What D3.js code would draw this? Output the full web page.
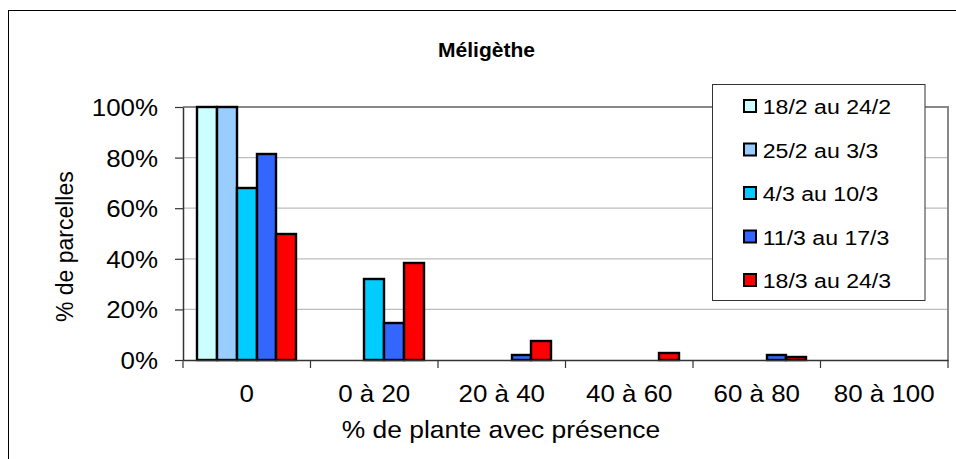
<!DOCTYPE html>
<html>
<head>
<meta charset="utf-8">
<script src="https://cdn.jsdelivr.net/npm/d3@7/dist/d3.min.js"></script>
<style>
  html, body { margin: 0; padding: 0; background: #fff; }
  text { font-family: "Liberation Sans", Arial, sans-serif; fill: #000; }
</style>
</head>
<body>
<svg id="chart" width="956" height="459"></svg>
<script>
// ---- data ----
const title = "Méligèthe";
const xTitle = "% de plante avec présence";
const yTitle = "% de parcelles";
const categories = ["0", "0 à 20", "20 à 40", "40 à 60", "60 à 80", "80 à 100"];
const seriesNames = ["18/2 au 24/2", "25/2 au 3/3", "4/3 au 10/3", "11/3 au 17/3", "18/3 au 24/3"];
const seriesColors = ["#CCFFFF", "#99CCFF", "#00CCFF", "#3366FF", "#FF0000"];
const s1 = [100, 0, 0, 0, 0, 0];
const s2 = [100, 0, 0, 0, 0, 0];
const s3 = [68, 32, 0, 0, 0, 0];
const s4 = [81.5, 14.8, 1.9, 0, 1.9, 0];
const s5 = [50, 38.5, 7.7, 2.6, 1.3, 0];
const seriesValues = [s1, s2, s3, s4, s5];
const yTicks = [0, 20, 40, 60, 80, 100];

// ---- layout ----
const svg = d3.select("#chart");
const plot = { left: 183, right: 948, top: 107, bottom: 360 };
const SX = 1.08;

// outer chart frame
svg.append("rect").attr("x", 8.5).attr("y", 10.5).attr("width", 960).attr("height", 470)
  .attr("fill", "#fff").attr("stroke", "#000").attr("stroke-width", 1);

const x0 = d3.scaleBand().domain(categories).range([plot.left, plot.right]).padding(0);
const x1 = d3.scaleBand().domain(seriesNames).range([0, x0.bandwidth()]).paddingInner(0).paddingOuter(0.735);
const y = d3.scaleLinear().domain([0, 100]).range([plot.bottom, plot.top]);

// gridlines
svg.append("g").selectAll("line").data(yTicks.filter(t => t > 0 && t < 100)).join("line")
  .attr("x1", plot.left).attr("x2", plot.right)
  .attr("y1", d => y(d)).attr("y2", d => y(d))
  .attr("stroke", "#bdbdbd").attr("stroke-width", 1.3);

// plot border top/right
svg.append("path")
  .attr("d", `M${plot.left},${y(100)}H${plot.right}V${plot.bottom}`)
  .attr("fill", "none").attr("stroke", "#888").attr("stroke-width", 2);

// bars
const barData = [];
seriesNames.forEach((s, si) => {
  categories.forEach((c, ci) => {
    const v = seriesValues[si][ci];
    if (v > 0) barData.push({ s, c, v, color: seriesColors[si] });
  });
});
svg.append("g").selectAll("rect").data(barData).join("rect")
  .attr("x", d => Math.round(x0(d.c) + x1(d.s)))
  .attr("y", d => Math.round(y(d.v)))
  .attr("width", d => Math.round(x0(d.c) + x1(d.s) + x1.bandwidth()) - Math.round(x0(d.c) + x1(d.s)))
  .attr("height", d => Math.round(y(0)) - Math.round(y(d.v)))
  .attr("fill", d => d.color)
  .attr("stroke", "#000").attr("stroke-width", 2.4);

// y axis
const yAxis = svg.append("g").attr("transform", `translate(${plot.left},0)`)
  .call(d3.axisLeft(y).tickValues(yTicks).tickFormat(d => d + "%").tickSize(8).tickSizeOuter(0));
yAxis.select(".domain").attr("stroke", "#333").attr("stroke-width", 1.5);
yAxis.selectAll(".tick line").attr("stroke", "#333").attr("stroke-width", 1.2);
yAxis.selectAll(".tick text")
  .attr("font-size", 24).attr("font-family", "Liberation Sans, Arial, sans-serif")
  .attr("x", -25 / SX).attr("dy", "0.35em")
  .attr("transform", `scale(${SX},1)`);

// x axis
const xAxis = svg.append("g").attr("transform", `translate(0,${plot.bottom})`)
  .call(d3.axisBottom(x0).tickSize(0).tickPadding(25).tickSizeOuter(0));
xAxis.select(".domain").attr("stroke", "#333").attr("stroke-width", 1.5);
xAxis.selectAll(".tick text")
  .attr("font-size", 24).attr("font-family", "Liberation Sans, Arial, sans-serif")
  .attr("transform", `scale(${SX},1)`)
  .attr("x", 0);
// boundary ticks
const bounds = categories.map(c => x0(c)).concat([x0(categories[categories.length - 1]) + x0.bandwidth()]);
svg.append("g").selectAll("line").data(bounds).join("line")
  .attr("x1", d => d).attr("x2", d => d)
  .attr("y1", plot.bottom).attr("y2", plot.bottom + 8)
  .attr("stroke", "#333").attr("stroke-width", 1.2);

// titles
svg.append("text").attr("transform", "translate(486.5,57)")
  .attr("text-anchor", "middle").attr("font-size", 21).attr("font-weight", "bold")
  .text(title);
svg.append("text").attr("transform", `translate(501,438) scale(1.1,1)`)
  .attr("text-anchor", "middle").attr("font-size", 24)
  .text(xTitle);
svg.append("text").attr("transform", "translate(73,246.7) rotate(-90)")
  .attr("text-anchor", "middle").attr("font-size", 23)
  .text(yTitle);

// legend
const lg = svg.append("g");
lg.append("rect").attr("x", 712.5).attr("y", 84.5).attr("width", 212.5).attr("height", 216)
  .attr("fill", "#fff").attr("stroke", "#333").attr("stroke-width", 1);
const items = lg.selectAll("g.item").data(seriesNames).join("g")
  .attr("transform", (d, i) => `translate(0,${106 + i * 43.5})`);
items.append("rect").attr("x", 744).attr("y", -6).attr("width", 12).attr("height", 12)
  .attr("fill", (d, i) => seriesColors[i]).attr("stroke", "#000").attr("stroke-width", 2);
items.append("text").attr("transform", "translate(762.7,8) scale(1.1,1)")
  .attr("font-size", 21).text(d => d);
</script>
</body>
</html>
